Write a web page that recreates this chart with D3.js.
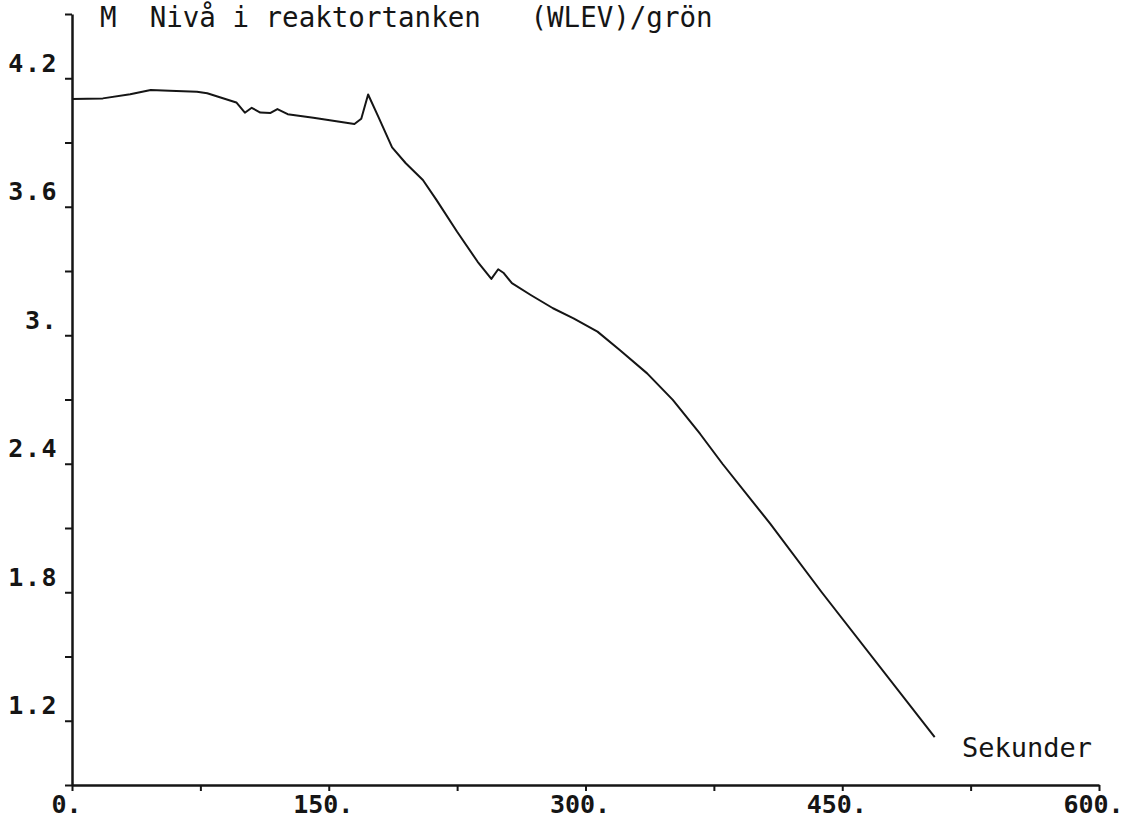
<!DOCTYPE html>
<html>
<head>
<meta charset="utf-8">
<script src="https://cdn.jsdelivr.net/npm/d3@7"></script>
<style>
    body { margin: 0; background: #fff; }
    text { font-family: "DejaVu Sans Mono", monospace; fill: #151515; }
</style>
</head>
<body>
<div id="chart"></div>
<script>
// Nivå i reaktortanken (WLEV)
const times = [0, 18, 34, 46, 57, 73, 79, 96, 101, 105, 110, 116, 120, 126, 141, 165, 169, 173,
    179, 187, 195, 205, 213, 225, 237, 245, 249, 252, 257, 268, 281, 293, 307, 320, 336, 351,
    367, 380, 408, 438, 504];
const levels = [4.103, 4.106, 4.125, 4.145, 4.142, 4.137, 4.130, 4.087, 4.039, 4.062, 4.040,
    4.038, 4.056, 4.032, 4.016, 3.986, 4.011, 4.124, 4.020, 3.877, 3.803, 3.725, 3.631, 3.483,
    3.343, 3.263, 3.308, 3.292, 3.243, 3.188, 3.126, 3.079, 3.017, 2.931, 2.822, 2.698, 2.539,
    2.400, 2.119, 1.800, 1.124];

const xTicks = [0, 75, 150, 225, 300, 375, 450, 525, 600];
const xTickLabels = ["0.", "", "150.", "", "300.", "", "450.", "", "600."];
const yTicks = [0.9, 1.2, 1.5, 1.8, 2.1, 2.4, 2.7, 3.0, 3.3, 3.6, 3.9, 4.2, 4.5];
const yTickLabels = ["", "1.2", "", "1.8", "", "2.4", "", "3.", "", "3.6", "", "4.2", ""];

const titleText = "M  Nivå i reaktortanken   (WLEV)/grön";
const xTitle = "Sekunder";

const width = 1130;
const height = 820;
const margin = { top: 14, right: 31, bottom: 35, left: 72 };

const svg = d3.select("#chart")
    .append("svg")
    .attr("width", width)
    .attr("height", height);

svg.append("rect").attr("width", width).attr("height", height).attr("fill", "#fff");

const xScale = d3.scaleLinear()
    .domain([0, 600])
    .range([margin.left, width - margin.right]);

const yScale = d3.scaleLinear()
    .domain([0.9, 4.5])
    .range([height - margin.bottom, margin.top]);

// x axis
const xAxis = svg.append("g")
    .attr("transform", `translate(0,${yScale(0.9)})`)
    .call(d3.axisBottom(xScale)
        .tickValues(xTicks)
        .tickSize(6)
        .tickSizeOuter(0)
        .tickFormat((d, i) => xTickLabels[i]));

xAxis.select(".domain").attr("stroke", "#151515").attr("stroke-width", 2.5);
xAxis.selectAll(".tick line").attr("stroke", "#151515").attr("stroke-width", 2);
xAxis.selectAll(".tick text")
    .attr("y", 28)
    .attr("dy", 0)
    .attr("dx", -6)
    .style("font-size", "25px")
    .style("font-weight", "bold");

// y axis
const yAxis = svg.append("g")
    .attr("transform", `translate(${xScale(0)},0)`)
    .call(d3.axisLeft(yScale)
        .tickValues(yTicks)
        .tickSize(7)
        .tickSizeOuter(0)
        .tickFormat((d, i) => yTickLabels[i]));

yAxis.select(".domain").attr("stroke", "#151515").attr("stroke-width", 2.5);
yAxis.selectAll(".tick line").attr("stroke", "#151515").attr("stroke-width", 2);
yAxis.selectAll(".tick text")
    .attr("x", -14)
    .attr("dy", -7)
    .style("font-size", "25px")
    .style("font-weight", "bold")
    .style("letter-spacing", "1.5px");

// data line
const line = d3.line()
    .x((d, i) => xScale(times[i]))
    .y(d => yScale(d));

svg.append("path")
    .datum(levels)
    .attr("fill", "none")
    .attr("stroke", "#151515")
    .attr("stroke-width", 2)
    .attr("stroke-linejoin", "round")
    .attr("d", line);

// labels
svg.append("text")
    .attr("x", 100)
    .attr("y", 27)
    .style("font-size", "27.5px")
    .style("white-space", "pre")
    .text(titleText);

svg.append("text")
    .attr("x", 962)
    .attr("y", 757)
    .style("font-size", "27px")
    .text(xTitle);
</script>
</body>
</html>
